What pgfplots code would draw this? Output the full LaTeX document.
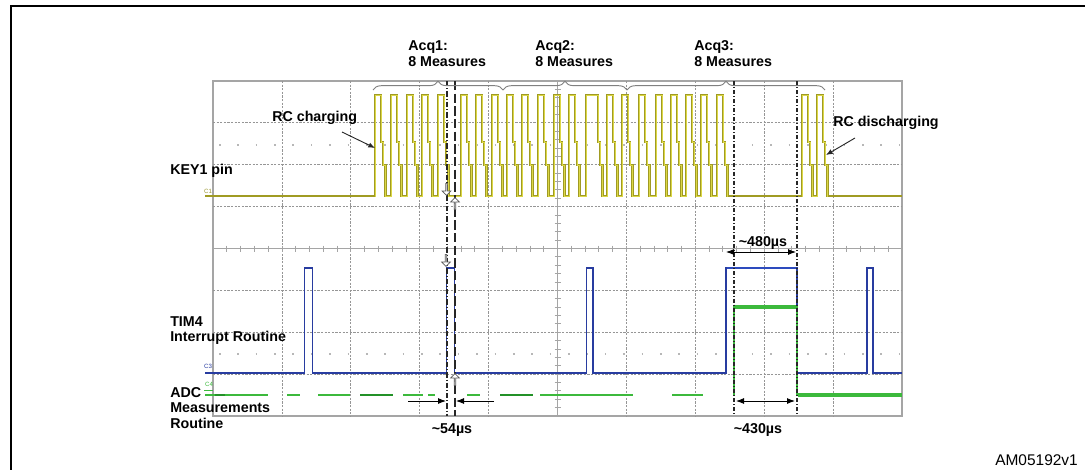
\documentclass[border=0pt]{standalone}
\usepackage{pgfplots}
\pgfplotsset{compat=1.18}
\usepackage{fontspec}
\setmainfont{Liberation Sans}
\usetikzlibrary{decorations.pathreplacing,shapes.arrows,arrows.meta}
\definecolor{yol}{RGB}{160,155,35}
\definecolor{ytr}{RGB}{220,215,70}
\definecolor{btr}{RGB}{40,60,160}
\definecolor{bhi}{RGB}{45,75,190}
\definecolor{gtr}{RGB}{60,185,60}
\definecolor{gdk}{RGB}{35,145,40}
\definecolor{gridc}{RGB}{165,165,165}
\definecolor{gridd}{RGB}{150,150,150}
\newcommand{\lab}{\fontsize{10.7}{12.8}\selectfont\bfseries}
\newcommand{\chtag}{\fontsize{4.6}{5}\selectfont}
\begin{document}
\begin{tikzpicture}
\begin{axis}[
  at={(159.75pt,-312pt)}, anchor=south west,
  scale only axis, width=516.75pt, height=251.25pt,
  xmin=213, xmax=902, ymin=81, ymax=416, y dir=reverse,
  clip=false,
  axis line style={gridc, line width=0.8pt},
  xtick=\empty, ytick=\empty,
]
% grid
\pgfplotsinvokeforeach{281.9,350.8,419.7,488.6,626.4,695.3,764.2,833.1}{\draw[gridd, dash pattern=on 1.6pt off 1.1pt, line width=0.6pt] (axis cs:#1,81) -- (axis cs:#1,416);}
\pgfplotsinvokeforeach{122.875,164.75,206.625,290.375,332.25,374.125}{\draw[gridd, dash pattern=on 1.6pt off 1.1pt, line width=0.6pt] (axis cs:213,#1) -- (axis cs:902,#1);}
% frame
\draw[black, line width=1.5pt] (axis cs:11,475) -- (axis cs:11,5.5) -- (axis cs:1090,5.5);
% center cross
\draw[gridc, line width=0.6pt] (axis cs:557.5,81) -- (axis cs:557.5,416);
\draw[gridc, line width=0.6pt] (axis cs:213,248.5) -- (axis cs:902,248.5);
\pgfplotsinvokeforeach{89.375,97.75,...,410}{\draw[gridc, line width=0.6pt] (axis cs:554.5,#1) -- (axis cs:560.5,#1);}
\pgfplotsinvokeforeach{226.78,240.56,...,895}{\draw[gridc, line width=0.6pt] (axis cs:#1,245.5) -- (axis cs:#1,251.5);}
\draw[gridc!80, line width=0.9pt, dash pattern=on 1.2pt off 12.58pt] (axis cs:219,145) -- (axis cs:902,145);
\draw[gridc!80, line width=0.9pt, dash pattern=on 1.2pt off 12.58pt] (axis cs:219,354) -- (axis cs:902,354);

% bounding box coordinates
\coordinate (bbtl) at (axis cs:0,0);
\coordinate (bbbr) at (axis cs:1085,470);

% ---- yellow trace (KEY1 pin)
\pgfplotsset{ytrace/.style={no marks, line join=miter}}
\addplot[ytrace, yol, line width=2.0pt] coordinates {
(205,196)
(375,196)(375,95)(381,95)(381,142)(383,142)(383,165)(385.5,165)(385.5,196)
(391,196)(391,95)(397,95)(397,142)(399,142)(399,165)(401.5,165)(401.5,196)
(407,196)(407,95)(413,95)(413,142)(415,142)(415,165)(417.5,165)(417.5,196)
(422,196)(422,95)(428,95)(428,142)(430,142)(430,165)(432.5,165)(432.5,196)
(438,196)(438,95)(444,95)(444,142)(446,142)(446,165)(448.5,165)(448.5,196)
(461,196)(461,95)(467,95)(467,142)(469,142)(469,165)(471.5,165)(471.5,196)
(476,196)(476,95)(482,95)(482,142)(484,142)(484,165)(486.5,165)(486.5,196)
(492,196)(492,95)(498,95)(498,142)(500,142)(500,165)(502.5,165)(502.5,196)
(507,196)(507,95)(513,95)(513,142)(515,142)(515,165)(517.5,165)(517.5,196)
(522,196)(522,95)(528,95)(528,142)(530,142)(530,165)(532.5,165)(532.5,196)
(538,196)(538,95)(544,95)(544,142)(546,142)(546,165)(548.5,165)(548.5,196)
(554,196)(554,95)(560,95)(560,142)(562,142)(562,165)(564.5,165)(564.5,196)
(569,196)(569,95)(575,95)(575,142)(577,142)(577,165)(579.5,165)(579.5,196)
(586,196)(586,95)(598,95)(598,142)(600,142)(600,165)(602.5,165)(602.5,196)
(607,196)(607,95)(613,95)(613,142)(615,142)(615,165)(617.5,165)(617.5,196)
(622,196)(622,95)(628,95)(628,142)(630,142)(630,165)(632.5,165)(632.5,196)
(639,196)(639,95)(645,95)(645,142)(647,142)(647,165)(649.5,165)(649.5,196)
(656,196)(656,95)(662,95)(662,142)(664,142)(664,165)(666.5,165)(666.5,196)
(671,196)(671,95)(677,95)(677,142)(679,142)(679,165)(681.5,165)(681.5,196)
(686,196)(686,95)(692,95)(692,142)(694,142)(694,165)(696.5,165)(696.5,196)
(701,196)(701,95)(707,95)(707,142)(709,142)(709,165)(711.5,165)(711.5,196)
(717,196)(717,95)(723,95)(723,142)(725,142)(725,165)(727.5,165)(727.5,196)
(802,196)(802,95)(808,95)(808,142)(810,142)(810,165)(812.5,165)(812.5,196)
(817,196)(817,95)(823,95)(823,142)(825,142)(825,165)(827.5,165)(827.5,196)
(902,196)};
\addplot[ytrace, ytr, line width=0.7pt] coordinates {
(205,196)
(375,196)(375,95)(381,95)(381,142)(383,142)(383,165)(385.5,165)(385.5,196)
(391,196)(391,95)(397,95)(397,142)(399,142)(399,165)(401.5,165)(401.5,196)
(407,196)(407,95)(413,95)(413,142)(415,142)(415,165)(417.5,165)(417.5,196)
(422,196)(422,95)(428,95)(428,142)(430,142)(430,165)(432.5,165)(432.5,196)
(438,196)(438,95)(444,95)(444,142)(446,142)(446,165)(448.5,165)(448.5,196)
(461,196)(461,95)(467,95)(467,142)(469,142)(469,165)(471.5,165)(471.5,196)
(476,196)(476,95)(482,95)(482,142)(484,142)(484,165)(486.5,165)(486.5,196)
(492,196)(492,95)(498,95)(498,142)(500,142)(500,165)(502.5,165)(502.5,196)
(507,196)(507,95)(513,95)(513,142)(515,142)(515,165)(517.5,165)(517.5,196)
(522,196)(522,95)(528,95)(528,142)(530,142)(530,165)(532.5,165)(532.5,196)
(538,196)(538,95)(544,95)(544,142)(546,142)(546,165)(548.5,165)(548.5,196)
(554,196)(554,95)(560,95)(560,142)(562,142)(562,165)(564.5,165)(564.5,196)
(569,196)(569,95)(575,95)(575,142)(577,142)(577,165)(579.5,165)(579.5,196)
(586,196)(586,95)(598,95)(598,142)(600,142)(600,165)(602.5,165)(602.5,196)
(607,196)(607,95)(613,95)(613,142)(615,142)(615,165)(617.5,165)(617.5,196)
(622,196)(622,95)(628,95)(628,142)(630,142)(630,165)(632.5,165)(632.5,196)
(639,196)(639,95)(645,95)(645,142)(647,142)(647,165)(649.5,165)(649.5,196)
(656,196)(656,95)(662,95)(662,142)(664,142)(664,165)(666.5,165)(666.5,196)
(671,196)(671,95)(677,95)(677,142)(679,142)(679,165)(681.5,165)(681.5,196)
(686,196)(686,95)(692,95)(692,142)(694,142)(694,165)(696.5,165)(696.5,196)
(701,196)(701,95)(707,95)(707,142)(709,142)(709,165)(711.5,165)(711.5,196)
(717,196)(717,95)(723,95)(723,142)(725,142)(725,165)(727.5,165)(727.5,196)
(802,196)(802,95)(808,95)(808,142)(810,142)(810,165)(812.5,165)(812.5,196)
(817,196)(817,95)(823,95)(823,142)(825,142)(825,165)(827.5,165)(827.5,196)
(902,196)};
\addplot[no marks, yol, line width=2.2pt] coordinates {(205,196)(375,196)};
\addplot[no marks, yol, line width=2.2pt] coordinates {(728,196)(802,196)};
\addplot[no marks, yol, line width=2.2pt] coordinates {(828,196)(902,196)};

% ---- blue trace (TIM4)
\addplot[no marks, btr, line width=1.0pt, line join=miter] coordinates {
(205,373)(304.5,373)(304.5,268)(312.5,268)(312.5,373)
(446.5,373)(446.5,268)(454.5,268)(454.5,373)
(586.5,373)(586.5,268)(593,268)(593,373)
(726,373)(726,268)(797,268)(797,373)
(867,373)(867,268)(873,268)(873,373)(902,373)};
\addplot[no marks, bhi, line width=2.0pt] coordinates {(727,268)(796,268)};

% ---- green trace (ADC)
\addplot[no marks, gtr, line width=1.4pt, unbounded coords=jump] coordinates {
(205,395)(268,395)(269,nan)(287,395)(300,395)(301,nan)(318,395)(350,395)(351,nan)
(360,395)(393,395)(394,nan)(403,395)(423,395)(424,nan)(428,395)(435,395)(436,nan)
(467,395)(480,395)(481,nan)(500,395)(533,395)(534,nan)(540,395)(633,395)(634,nan)
(672,395)(703,395)};
\addplot[no marks, gdk, line width=1.8pt, unbounded coords=jump] coordinates {
(215,395)(225,395)(226,nan)(360,395)(393,395)(394,nan)(500,395)(533,395)};
\addplot[no marks, gtr, line width=0.8pt] coordinates {(734,395)(734,307)(797,307)(797,395)(902,395)};
\addplot[no marks, gtr, line width=2.4pt] coordinates {(735,307)(797,307)};
\addplot[no marks, gtr, line width=2.4pt] coordinates {(798,395)(902,395)};

% ---- cursor lines
\draw[black!85, line width=0.8pt, dash pattern=on 4pt off 1.5pt on 0.8pt off 1.5pt] (axis cs:447,81) -- (axis cs:447,416);
\draw[black!85, line width=0.8pt, dash pattern=on 7pt off 2.5pt] (axis cs:455,81) -- (axis cs:455,416);
\draw[black!85, line width=0.8pt, dash pattern=on 3pt off 1.5pt on 0.8pt off 1.5pt] (axis cs:734,81) -- (axis cs:734,416);
\draw[black!85, line width=0.8pt, dash pattern=on 3pt off 1.5pt on 0.8pt off 1.5pt] (axis cs:797,81) -- (axis cs:797,416);

% cursor markers
\tikzset{curs/.style={single arrow, draw=gray!70!black, fill=white, line width=0.5pt, minimum height=9pt, minimum width=6.5pt, single arrow head extend=1.2pt, inner sep=0pt}}
\node[curs, shape border rotate=270] at (axis cs:446.5,189) {};
\node[curs, shape border rotate=90] at (axis cs:455,204) {};
\node[curs, shape border rotate=270] at (axis cs:446,260) {};
\node[curs, shape border rotate=90] at (axis cs:455,380) {};

% channel tags
\node[ytr!70!black, font=\chtag, anchor=center] at (axis cs:208,191) {C1};
\node[btr, font=\chtag, anchor=center] at (axis cs:208,366) {C3};
\node[gtr, font=\chtag, anchor=center] at (axis cs:209,384) {C4};
\draw[gtr, line width=0.6pt] (axis cs:204,390) -- (axis cs:213,390);

% braces
\draw[gray, line width=0.7pt, decorate, decoration={brace, amplitude=6.5pt}] (axis cs:373,90) -- (axis cs:503,90);
\draw[gray, line width=0.7pt, decorate, decoration={brace, amplitude=6.5pt}] (axis cs:503,90) -- (axis cs:627,90);
\draw[gray, line width=0.7pt, decorate, decoration={brace, amplitude=6.5pt}] (axis cs:627,90) -- (axis cs:825,90);

% texts
\node[anchor=base west, inner sep=0pt, font=\lab] at (axis cs:408,50.5) {Acq1:};
\node[anchor=base west, inner sep=0pt, font=\lab] at (axis cs:408,66) {8 Measures};
\node[anchor=base west, inner sep=0pt, font=\lab] at (axis cs:535,50.5) {Acq2:};
\node[anchor=base west, inner sep=0pt, font=\lab] at (axis cs:535,66) {8 Measures};
\node[anchor=base west, inner sep=0pt, font=\lab] at (axis cs:694,50.5) {Acq3:};
\node[anchor=base west, inner sep=0pt, font=\lab] at (axis cs:694,66) {8 Measures};
\node[anchor=base west, inner sep=0pt, font=\lab] at (axis cs:272,121) {RC charging};
\node[anchor=base west, inner sep=0pt, font=\lab] at (axis cs:833,126) {RC discharging};
\node[anchor=base west, inner sep=0pt, font=\lab] at (axis cs:170,174) {KEY1 pin};
\node[anchor=base west, inner sep=0pt, font=\lab] at (axis cs:170,326) {TIM4};
\node[anchor=base west, inner sep=0pt, font=\lab] at (axis cs:170,341) {Interrupt Routine};
\node[anchor=base west, inner sep=0pt, font=\lab] at (axis cs:170,397) {ADC};
\node[anchor=base west, inner sep=0pt, font=\lab] at (axis cs:170,412.5) {Measurements};
\node[anchor=base west, inner sep=0pt, font=\lab] at (axis cs:170,428.5) {Routine};
\node[anchor=base, inner sep=0pt, font=\lab] at (axis cs:452,433) {\textasciitilde 54µs};
\node[anchor=base, inner sep=0pt, font=\lab] at (axis cs:758,433) {\textasciitilde 430µs};
\node[anchor=base, inner sep=0pt, font=\lab] at (axis cs:763,246.5) {\textasciitilde 480µs};
\node[anchor=base west, inner sep=0pt, font=\fontsize{11.6}{13}\selectfont] at (axis cs:995,465.5) {AM05192v1};

% annotation arrows
\draw[black!85, line width=0.7pt, -{Latex[length=5pt,width=4pt]}] (axis cs:342,132) -- (axis cs:375,148);
\draw[black!85, line width=0.7pt, -{Latex[length=5pt,width=4pt]}] (axis cs:855,138) -- (axis cs:826,155);
\draw[black, line width=0.7pt, -{Latex[length=6pt,width=4.5pt]}] (axis cs:408,401) -- (axis cs:446,401);
\draw[black, line width=0.7pt, -{Latex[length=6pt,width=4.5pt]}] (axis cs:494,401) -- (axis cs:456,401);
\draw[black, line width=0.7pt, {Latex[length=6pt,width=4.5pt]}-{Latex[length=6pt,width=4.5pt]}] (axis cs:736,401) -- (axis cs:795,401);
\draw[black, line width=0.7pt, {Latex[length=6pt,width=4.5pt]}-{Latex[length=6pt,width=4.5pt]}] (axis cs:726,252) -- (axis cs:796,252);
\end{axis}
\pgfresetboundingbox
\path[use as bounding box] (bbtl) rectangle (bbbr);
\end{tikzpicture}
\end{document}
